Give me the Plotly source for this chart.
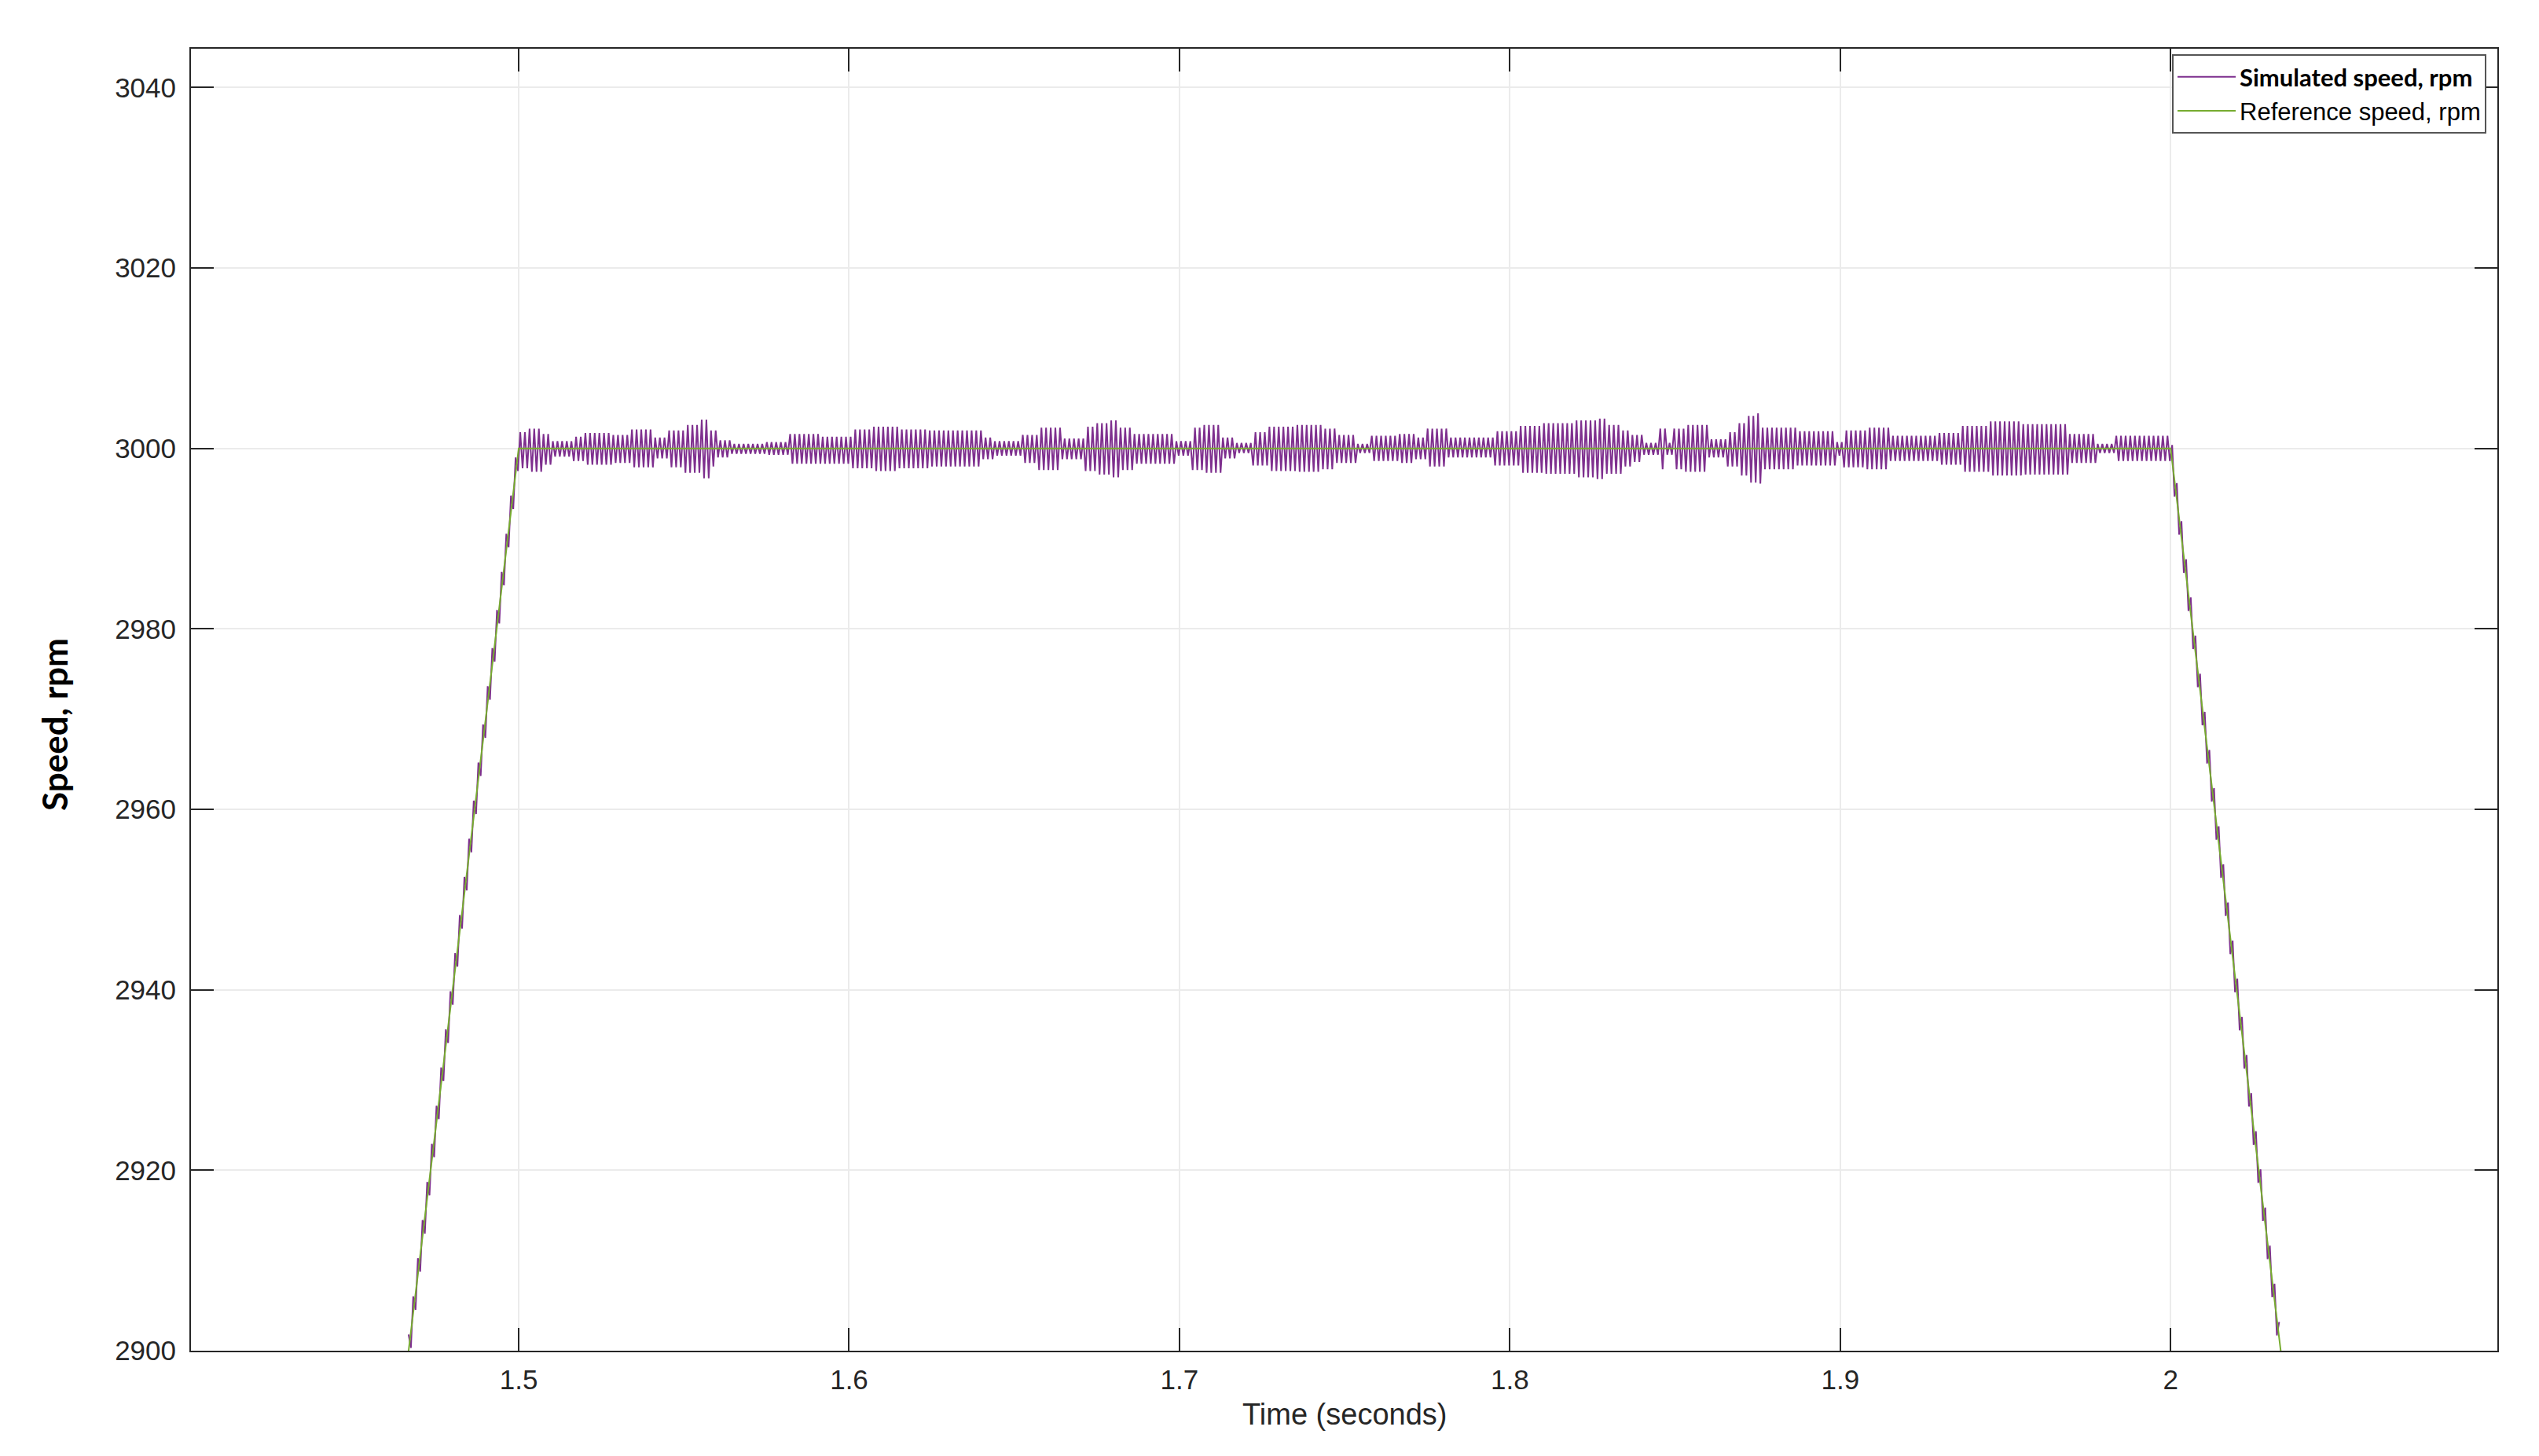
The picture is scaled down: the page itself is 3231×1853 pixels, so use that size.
import bisect
import numpy as np
import plotly.graph_objects as go

# ---------------- data ----------------
# Reference speed (ramp up / plateau / ramp down)
ref_t = [1.46667, 1.5, 2.0, 2.03333]
ref_v = [2900, 3000, 3000, 2900]

# Simulated speed: fast ripple (~710 Hz, one peak every ~5.9 px) around the reference.
ripple_freq_hz = 710
# envelope: segment start time, upper peak (rpm above 3000), lower peak (rpm below 3000)
env_t = [1.500, 1.503, 1.507, 1.510, 1.516, 1.520, 1.528, 1.534, 1.541, 1.545,
         1.550, 1.555, 1.558, 1.560, 1.564, 1.575, 1.582, 1.592, 1.601, 1.607,
         1.615, 1.624, 1.640, 1.644, 1.652, 1.657, 1.664, 1.6715, 1.675, 1.679,
         1.682, 1.686, 1.6986, 1.7034, 1.707, 1.7125, 1.717, 1.7223, 1.727, 1.735,
         1.743, 1.7475, 1.7533, 1.7582, 1.766, 1.7713, 1.775, 1.781, 1.795, 1.803,
         1.810, 1.820, 1.826, 1.829, 1.834, 1.837, 1.840, 1.845, 1.847, 1.8493,
         1.853, 1.860, 1.8657, 1.869, 1.872, 1.8745, 1.876, 1.8869, 1.899, 1.901,
         1.908, 1.915, 1.930, 1.937, 1.945, 1.955, 1.9688, 1.9776, 1.9829]
env_up = [1.8, 2.2, 1.6, 0.8, 1.3, 1.7, 1.5, 2.1, 1.2, 2.0,
          2.6, 3.2, 2.0, 0.9, 0.5, 0.7, 1.6, 1.3, 2.1, 2.4,
          2.1, 2.0, 1.2, 0.8, 1.5, 2.3, 1.1, 2.4, 2.8, 3.1,
          2.3, 1.6, 0.8, 2.3, 2.6, 1.2, 0.6, 1.8, 2.4, 2.6,
          2.2, 1.5, 0.5, 1.4, 1.6, 1.2, 2.2, 1.2, 1.9, 2.5,
          2.8, 3.1, 3.3, 2.6, 2.0, 1.5, 0.6, 2.2, 0.6, 2.2,
          2.6, 1.0, 1.8, 2.8, 3.6, 3.9, 2.3, 1.9, 0.7, 2.0,
          2.3, 1.4, 1.7, 2.5, 3.0, 2.7, 1.6, 0.5, 1.4]
env_dn = [2.2, 2.6, 1.8, 0.9, 1.4, 1.8, 1.6, 2.1, 1.1, 2.1,
          2.7, 3.3, 2.0, 1.0, 0.6, 0.7, 1.7, 1.7, 2.2, 2.5,
          2.2, 2.0, 1.2, 0.8, 1.6, 2.4, 1.2, 2.5, 2.9, 3.2,
          2.4, 1.7, 0.8, 2.4, 2.7, 1.1, 0.5, 1.9, 2.5, 2.6,
          2.3, 1.6, 0.5, 1.4, 1.6, 1.2, 2.0, 1.0, 1.9, 2.7,
          2.8, 3.2, 3.4, 2.8, 2.0, 1.5, 0.7, 2.3, 0.7, 2.3,
          2.6, 1.0, 2.0, 3.0, 3.8, 3.9, 2.3, 1.9, 0.8, 2.1,
          2.3, 1.4, 1.8, 2.6, 3.0, 2.9, 1.6, 0.5, 1.4]
ramp_ripple = 1.8

x_ticks = [1.5, 1.6, 1.7, 1.8, 1.9, 2.0]
x_tick_text = ["1.5", "1.6", "1.7", "1.8", "1.9", "2"]
y_ticks = [2900, 2920, 2940, 2960, 2980, 3000, 3020, 3040]

# ---------------- build simulated trace ----------------
half = 0.5 / ripple_freq_hz
sim_t, sim_v = [], []
t = ref_t[0]
k = 0
while t <= ref_t[-1] + 1e-9:
    base = float(np.interp(t, ref_t, ref_v))
    sign = 1 if k % 2 == 0 else -1
    if ref_t[1] <= t <= ref_t[2]:
        i = max(0, bisect.bisect_right(env_t, t) - 1)
        a = env_up[i] if sign > 0 else env_dn[i]
    else:
        a = ramp_ripple
    sim_t.append(t)
    sim_v.append(base + sign * a)
    t += half
    k += 1

# ---------------- figure ----------------
AX = "#262626"
fig = go.Figure()
fig.add_trace(go.Scatter(
    x=sim_t, y=sim_v, mode="lines",
    name='<span style="font-family:Lato;font-weight:bold">Simulated speed, rpm</span>',
    line=dict(color="#7E2F8E", width=2),
))
fig.add_trace(go.Scatter(
    x=ref_t, y=ref_v, mode="lines",
    name="Reference speed, rpm",
    line=dict(color="#77AC30", width=2),
))

# page has an 8px body margin; plot area on page: x 243..3178, y 62..1719
W, H = 3215, 1837
L, T = 235, 54
R = W - (3178 - 8)
B = H - (1719 - 8)
pw, ph = 3178 - 243, 1719 - 62

def px(xp):
    return (xp - 243) / pw

def py(yp):
    return (1719 - yp) / ph

fig.update_layout(
    width=W, height=H,
    margin=dict(l=L, r=R, t=T, b=B, pad=0),
    paper_bgcolor="white", plot_bgcolor="white",
    font=dict(family="Liberation Sans, Arial", size=35, color=AX),
    showlegend=True,
    legend=dict(
        x=px(3164), y=py(69), xanchor="right", yanchor="top",
        bgcolor="white", bordercolor="#555555", borderwidth=2,
        font=dict(family="Liberation Sans, Arial", size=31, color="black"),
        itemwidth=74,
    ),
    annotations=[
        dict(text="Time (seconds)", xref="paper", yref="paper",
             x=0.5, y=py(1800), xanchor="center", yanchor="middle",
             showarrow=False, font=dict(family="Liberation Sans, Arial", size=38, color=AX)),
        dict(text="<b>Speed, rpm</b>", xref="paper", yref="paper",
             x=px(69), y=py(922), xanchor="center", yanchor="middle",
             textangle=-90, showarrow=False,
             font=dict(family="Lato", size=44, color="black")),
    ],
)
fig.update_xaxes(
    range=[1.4008, 2.0989], tickvals=x_ticks, ticktext=x_tick_text,
    showline=True, linecolor=AX, linewidth=2, mirror="allticks",
    ticks="inside", ticklen=29, tickwidth=2, tickcolor=AX,
    showgrid=True, gridcolor="#ebebeb", gridwidth=2, zeroline=False,
    ticklabelstandoff=5,
)
fig.update_yaxes(
    range=[2900, 3044.3], tickvals=y_ticks,
    showline=True, linecolor=AX, linewidth=2, mirror="allticks",
    ticks="inside", ticklen=29, tickwidth=2, tickcolor=AX,
    showgrid=True, gridcolor="#ebebeb", gridwidth=2, zeroline=False,
    ticklabelstandoff=10,
)

fig.write_html("out.html")
